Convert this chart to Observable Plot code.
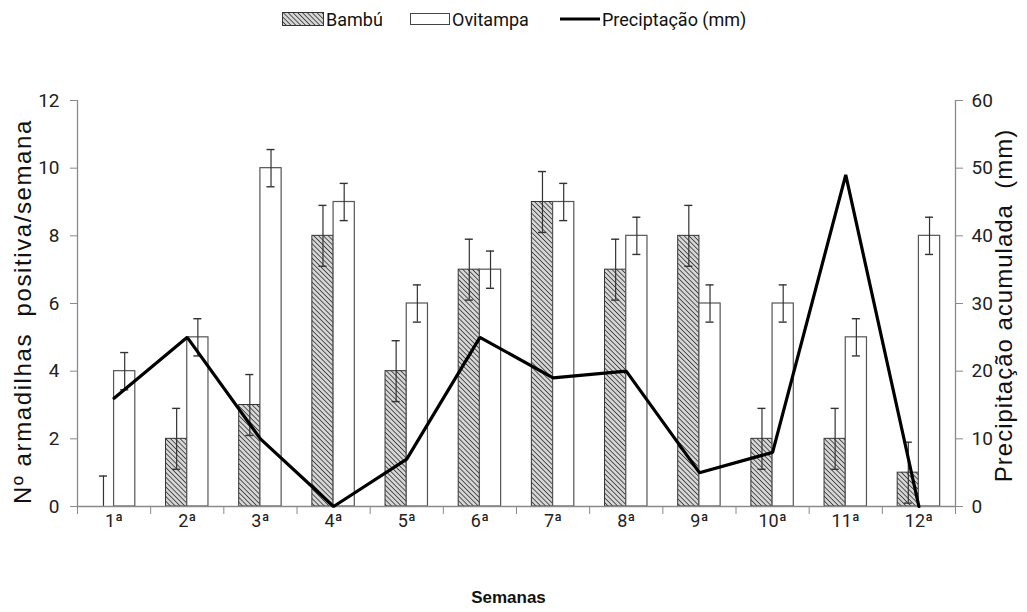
<!DOCTYPE html>
<html>
<head>
<meta charset="utf-8">
<script src="https://cdn.jsdelivr.net/npm/d3@7"></script>
<script src="https://cdn.jsdelivr.net/npm/@observablehq/plot@0.6"></script>
<style>
  body { margin: 0; background: #fff; }
  #wrap { width: 1027px; position: relative; }
  #legend { position: relative; width: 1027px; height: 38px; font-family: "Liberation Sans Narrow", "Roboto", sans-serif; font-size: 18px; color: #111; }
  #legend .item { position: absolute; top: 8px; display: flex; align-items: center; height: 22px; }
  #legend svg { display: block; margin-right: 2px; }
</style>
</head>
<body>
<div id="wrap">
  <div id="legend"></div>
  <div id="chart"></div>
</div>
<script>
// Weekly trap counts (bamboo and ovitrap), standard error and accumulated rainfall
const weeks = ["1ª", "2ª", "3ª", "4ª", "5ª", "6ª", "7ª", "8ª", "9ª", "10ª", "11ª", "12ª"];
const bambu = [0, 2, 3, 8, 4, 7, 9, 7, 8, 2, 2, 1];
const bambuErr = [0.9, 0.9, 0.9, 0.9, 0.9, 0.9, 0.9, 0.9, 0.9, 0.9, 0.9, 0.9];
const ovitampa = [4, 5, 10, 9, 6, 7, 9, 8, 6, 6, 5, 8];
const ovitampaErr = [0.55, 0.55, 0.55, 0.55, 0.55, 0.55, 0.55, 0.55, 0.55, 0.55, 0.55, 0.55];
const precip = [16, 25, 10, 0, 7, 25, 19, 20, 5, 8, 49, 0];
const leftTicks = [0, 2, 4, 6, 8, 10, 12];
const rainPerUnit = 5; // right axis: 0–60 mm over the left 0–12 range

const barW = 0.29;
const rows = weeks.map((w, k) => ({
  w, i: k + 1,
  bambu: bambu[k], bambuErr: bambuErr[k],
  ovitampa: ovitampa[k], ovitampaErr: ovitampaErr[k],
  rain: precip[k] / rainPerUnit
}));

// error bar segments for both series
const errs = rows.flatMap(d => [
  {x: d.i - barW / 2, v: d.bambu, e: d.bambuErr},
  {x: d.i + barW / 2, v: d.ovitampa, e: d.ovitampaErr}
]).map(d => ({...d, lo: Math.max(0, d.v - d.e), hi: d.v + d.e, showLo: d.v - d.e >= 0}));
const caps = errs.flatMap(d => d.showLo ? [{x: d.x, y: d.hi}, {x: d.x, y: d.lo}] : [{x: d.x, y: d.hi}]);
const capHalf = 0.055;

const hatchDefs = (id) => `<defs><pattern id="${id}" patternUnits="userSpaceOnUse" width="3.4" height="3.4" patternTransform="rotate(-45)">
  <rect width="3.4" height="3.4" fill="#d6d6d6"/><line x1="0" y1="0" x2="0" y2="3.4" stroke="#333" stroke-width="1.6"/></pattern></defs>`;

const font = `"Liberation Sans Narrow", "Roboto", sans-serif`;
const titleFont = `"Liberation Sans", Arial, sans-serif`;
const axisColor = "#8a8a8a";
const leftTitle = "Nº armadilhas  positiva/semana";
const rightTitle = "Precipitação acumulada  (mm)";

const chart = Plot.plot({
  width: 1027,
  height: 574,
  marginTop: 62,
  marginBottom: 106,
  marginLeft: 77,
  marginRight: 72,
  style: {fontFamily: font, fontSize: "18px", color: "#222", background: "#fff"},
  x: {type: "linear", domain: [0.5, weeks.length + 0.5]},
  y: {domain: [0, 12]},
  marks: [
    // bars
    Plot.rectY(rows, {x1: d => d.i - barW, x2: d => d.i, y1: 0, y2: "bambu", fill: "url(#hatch)", stroke: "#333", strokeWidth: 1}),
    Plot.rectY(rows, {x1: d => d.i, x2: d => d.i + barW, y1: 0, y2: "ovitampa", fill: "#fff", stroke: "#555", strokeWidth: 1.2}),
    // error bars
    Plot.ruleX(errs, {x: "x", y1: "lo", y2: "hi", stroke: "#333", strokeWidth: 1.2}),
    Plot.ruleY(caps, {y: "y", x1: d => d.x - capHalf, x2: d => d.x + capHalf, stroke: "#333", strokeWidth: 1.4}),
    // axis lines
    Plot.ruleX([0.5], {stroke: axisColor, strokeWidth: 1.3}),
    Plot.ruleX([weeks.length + 0.5], {stroke: axisColor, strokeWidth: 1.3}),
    Plot.ruleY([0], {stroke: axisColor, strokeWidth: 1.3}),
    // rainfall line
    Plot.line(rows, {x: "i", y: "rain", stroke: "#000", strokeWidth: 3.2, strokeLinejoin: "miter"}),
    // axes
    Plot.axisY({anchor: "left", ticks: leftTicks, tickSize: 7, tickPadding: 11, stroke: axisColor, label: null, fontSize: 19}),
    Plot.axisY({anchor: "right", ticks: leftTicks, tickSize: 7, tickPadding: 9, stroke: axisColor, label: null, fontSize: 19, tickFormat: d => d * rainPerUnit}),
    Plot.axisX({ticks: rows.map(d => d.i), tickSize: 0, tickPadding: 8, tickFormat: d => weeks[d - 1], label: null, fontSize: 18}),
    Plot.axisX({ticks: d3.range(0.5, weeks.length + 1, 1), tickSize: 8, stroke: axisColor, tickFormat: () => "", label: null}),
    // axis titles
    Plot.text([leftTitle], {frameAnchor: "left", textAnchor: "middle", dx: -54, dy: 8, rotate: -90, fontSize: 24, fontFamily: titleFont, fill: "#111"}),
    Plot.text([rightTitle], {frameAnchor: "right", textAnchor: "middle", dx: 49, dy: 2, rotate: -90, fontSize: 24, fontFamily: titleFont, fill: "#111"}),
    Plot.text(["Semanas"], {frameAnchor: "bottom", textAnchor: "middle", dx: -8, dy: 96, fontSize: 17, fontWeight: "bold", fontFamily: titleFont, fill: "#111"})
  ]
});
chart.insertAdjacentHTML("afterbegin", hatchDefs("hatch"));
// spread the two rotated axis titles a little
d3.select(chart).selectAll("text").each(function() {
  const t = this.textContent;
  if (t === leftTitle) this.setAttribute("letter-spacing", "1.6");
  if (t === rightTitle) this.setAttribute("letter-spacing", "1");
});
document.getElementById("chart").appendChild(chart);

// legend
const legend = document.getElementById("legend");
const items = [
  {label: "Bambú", left: 282, swatch: `<svg width="42" height="14">${hatchDefs("hatchLegend")}<rect x="0.5" y="0.5" width="41" height="13" fill="url(#hatchLegend)" stroke="#333"/></svg>`},
  {label: "Ovitampa", left: 410, swatch: `<svg width="40" height="12"><rect x="0.5" y="0.5" width="39" height="11" fill="#fff" stroke="#444"/></svg>`},
  {label: "Preciptação (mm)", left: 560, swatch: `<svg width="40" height="6"><line x1="0" y1="3" x2="40" y2="3" stroke="#000" stroke-width="3.2"/></svg>`}
];
for (const it of items) {
  const div = document.createElement("div");
  div.className = "item";
  div.style.left = it.left + "px";
  div.innerHTML = it.swatch + `<span>${it.label}</span>`;
  legend.appendChild(div);
}
</script>
</body>
</html>
